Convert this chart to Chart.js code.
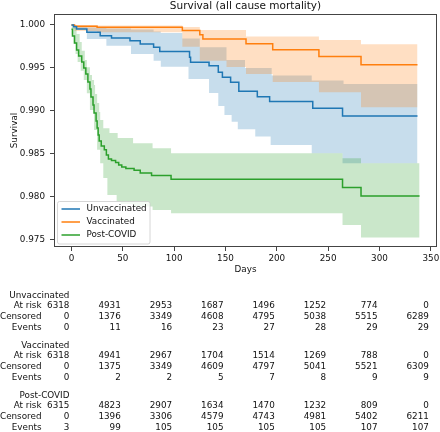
<!DOCTYPE html>
<html>
<head>
<meta charset="utf-8">
<script src="https://cdn.jsdelivr.net/npm/chart.js@4.4.1/dist/chart.umd.min.js"></script>
<style>
  html, body { margin: 0; padding: 0; background: #fff; }
  canvas { display: block; }
</style>
</head>
<body>
<canvas id="survivalChart" width="440" height="432"></canvas>
<script>
// Kaplan-Meier curves (day, survival)
const unvacDays = [0, 2, 5, 15, 28, 39, 57, 67, 80, 86, 115, 116, 134, 143, 147, 155, 163, 181, 193, 235, 264, 337];
const unvacSurv = [1.0, 0.9998, 0.99953, 0.99915, 0.99875, 0.99848, 0.99817, 0.99778, 0.9974, 0.99691, 0.99623, 0.99565, 0.99525, 0.99448, 0.9939, 0.99332, 0.99227, 0.99164, 0.99106, 0.99029, 0.98939, 0.98939];
const unvacUpperDays = [0, 5, 15, 34, 58, 80, 87, 108, 125, 151, 169, 195, 234, 265, 337];
const unvacUpper = [1.0, 0.99983, 0.99971, 0.99959, 0.99948, 0.99924, 0.99907, 0.99843, 0.9974, 0.99592, 0.99499, 0.9941, 0.99351, 0.99312, 0.99312];
const unvacLowerDays = [0, 2, 15, 34, 58, 80, 87, 114, 134, 143, 149, 156, 162, 179, 194, 234, 264, 337];
const unvacLower = [1.0, 0.99953, 0.99837, 0.99759, 0.99662, 0.99584, 0.99514, 0.9937, 0.99207, 0.99056, 0.98951, 0.98872, 0.98783, 0.98698, 0.986, 0.98504, 0.98387, 0.98387];

const vacDays = [0, 3, 25, 108, 125, 128, 170, 196, 241, 282, 337];
const vacSurv = [1.0, 0.99985, 0.99972, 0.99936, 0.99887, 0.99837, 0.99781, 0.99711, 0.99633, 0.99536, 0.99536];
const vacUpperDays = [0, 25, 108, 125, 170, 241, 282, 337];
const vacUpper = [1.0, 0.99995, 0.99977, 0.99942, 0.99866, 0.99825, 0.99775, 0.99775];
const vacLowerDays = [0, 3, 25, 108, 125, 151, 170, 196, 241, 282, 337];
const vacLower = [1.0, 0.9993, 0.99915, 0.99747, 0.99584, 0.9951, 0.99429, 0.99335, 0.99215, 0.9904, 0.9904];

const covidDays = [0, 1, 3, 5, 7, 10, 12, 14, 16, 18, 19, 21, 22, 24, 25, 26, 27, 29, 32, 34, 36, 39, 43, 46, 49, 53, 61, 67, 78, 97, 264, 282, 339];
const covidSurv = [0.9995, 0.99872, 0.9979, 0.99708, 0.99639, 0.99569, 0.99499, 0.99429, 0.99335, 0.99254, 0.9916, 0.99067, 0.98974, 0.98881, 0.98799, 0.98717, 0.98647, 0.98589, 0.98543, 0.98484, 0.98437, 0.9842, 0.98396, 0.98367, 0.98344, 0.98327, 0.98304, 0.98274, 0.98245, 0.98199, 0.98103, 0.98006, 0.98006];
const covidUpperDays = [0, 2, 5, 8, 10, 13, 15, 18, 20, 22, 23, 25, 27, 28, 31, 37, 45, 60, 79, 97, 264, 282, 339];
const covidUpper = [0.99985, 0.99965, 0.99895, 0.99802, 0.997, 0.99592, 0.99507, 0.99417, 0.99359, 0.993, 0.99195, 0.99091, 0.98986, 0.98892, 0.98796, 0.98741, 0.98682, 0.98621, 0.98562, 0.98504, 0.98446, 0.98387, 0.98387];
const covidLowerDays = [0, 2, 4, 6, 9, 12, 15, 18, 22, 25, 28, 31, 35, 44, 48, 60, 79, 97, 264, 282, 339];
const covidLower = [0.9989, 0.9978, 0.99662, 0.99569, 0.99467, 0.99359, 0.99204, 0.99009, 0.98776, 0.98543, 0.98387, 0.98216, 0.98018, 0.9794, 0.97913, 0.97881, 0.97843, 0.97804, 0.97668, 0.97522, 0.97522];

// at-risk table under the plot
const tableTicks = [0, 50, 100, 150, 200, 250, 300, 350];
const rowLabels = ['At risk', 'Censored', 'Events'];
const unvacAtRisk = [6318, 4931, 2953, 1687, 1496, 1252, 774, 0];
const unvacCensored = [0, 1376, 3349, 4608, 4795, 5038, 5515, 6289];
const unvacEvents = [0, 11, 16, 23, 27, 28, 29, 29];
const vacAtRisk = [6318, 4941, 2967, 1704, 1514, 1269, 788, 0];
const vacCensored = [0, 1375, 3349, 4609, 4797, 5041, 5521, 6309];
const vacEvents = [0, 2, 2, 5, 7, 8, 9, 9];
const covidAtRisk = [6315, 4823, 2907, 1634, 1470, 1232, 809, 0];
const covidCensored = [0, 1396, 3306, 4579, 4743, 4981, 5402, 6211];
const covidEvents = [3, 99, 105, 105, 105, 105, 107, 107];

const BLUE = '#1f77b4', ORANGE = '#ff7f0e', GREEN = '#2ca02c';
const FAMILY = "'DejaVu Sans', sans-serif";
const TEXT = '#111';
const tickFont = { family: FAMILY, size: 8.8 };

const toPoints = (days, vals) => days.map((d, i) => ({ x: d, y: vals[i] }));

function curve(label, days, vals, color) {
    return {
        label: label,
        data: toPoints(days, vals),
        borderColor: color,
        borderWidth: 1.5,
        stepped: true,
        pointRadius: 0,
        fill: false
    };
}

function band(days, vals, fill, color) {
    return {
        label: '',
        data: toPoints(days, vals),
        borderColor: 'rgba(0,0,0,0)',
        borderWidth: 0,
        stepped: true,
        pointRadius: 0,
        fill: fill,
        backgroundColor: color
    };
}

const groups = [
    { name: 'Unvaccinated', rows: [unvacAtRisk, unvacCensored, unvacEvents] },
    { name: 'Vaccinated', rows: [vacAtRisk, vacCensored, vacEvents] },
    { name: 'Post-COVID', rows: [covidAtRisk, covidCensored, covidEvents] }
];

// frame + legend drawn inside the axes, like matplotlib
const axesDecor = {
    id: 'axesDecor',
    afterDatasetsDraw(chart) {
        const { ctx, chartArea: a } = chart;
        ctx.save();
        ctx.strokeStyle = '#444';
        ctx.lineWidth = 1;
        ctx.strokeRect(Math.round(a.left) + 0.5, Math.round(a.top) + 0.5,
            Math.round(a.right - a.left) - 1, Math.round(a.bottom - a.top) - 1);

        // legend box
        const bx = a.left + 3.5, by = a.bottom - 45.5, bw = 92.5, bh = 42.5;
        ctx.beginPath();
        ctx.roundRect(bx, by, bw, bh, 2);
        ctx.fillStyle = 'rgba(255,255,255,0.8)';
        ctx.fill();
        ctx.strokeStyle = '#cccccc';
        ctx.lineWidth = 0.8;
        ctx.stroke();

        ctx.font = '8.8px ' + FAMILY;
        ctx.textBaseline = 'middle';
        ctx.textAlign = 'left';
        chart.data.datasets.slice(0, 3).forEach((ds, i) => {
            const y = by + 7.5 + i * 13;
            ctx.beginPath();
            ctx.moveTo(bx + 4, y);
            ctx.lineTo(bx + 22.5, y);
            ctx.strokeStyle = ds.borderColor;
            ctx.lineWidth = 1.5;
            ctx.stroke();
            ctx.fillStyle = TEXT;
            ctx.fillText(ds.label, bx + 29, y);
        });
        ctx.restore();
    }
};

const riskTable = {
    id: 'riskTable',
    afterDraw(chart) {
        const ctx = chart.ctx, xs = chart.scales.x;
        const colX = tableTicks.map(t => xs.getPixelForValue(t) - 2);
        ctx.save();
        ctx.font = '8.8px ' + FAMILY;
        ctx.fillStyle = TEXT;
        ctx.textBaseline = 'middle';
        ctx.textAlign = 'right';
        groups.forEach((g, gi) => {
            const y0 = 295.5 + gi * 50;
            ctx.fillText(g.name, colX[0], y0);
            g.rows.forEach((vals, ri) => {
                const y = y0 + 10.6 * (ri + 1);
                ctx.fillText(rowLabels[ri], 41.5, y);
                vals.forEach((v, ci) => ctx.fillText(String(v), colX[ci], y));
            });
        });
        ctx.restore();
    }
};

new Chart(document.getElementById('survivalChart'), {
    type: 'line',
    data: {
        datasets: [
            curve('Unvaccinated', unvacDays, unvacSurv, BLUE),
            curve('Vaccinated', vacDays, vacSurv, ORANGE),
            curve('Post-COVID', covidDays, covidSurv, GREEN),
            band(covidUpperDays, covidUpper, false, 'rgba(44,160,44,0.25)'),
            band(covidLowerDays, covidLower, '-1', 'rgba(44,160,44,0.25)'),
            band(vacUpperDays, vacUpper, false, 'rgba(255,127,14,0.25)'),
            band(vacLowerDays, vacLower, '-1', 'rgba(255,127,14,0.25)'),
            band(unvacUpperDays, unvacUpper, false, 'rgba(31,119,180,0.25)'),
            band(unvacLowerDays, unvacLower, '-1', 'rgba(31,119,180,0.25)')
        ]
    },
    options: {
        responsive: false,
        animation: false,
        events: [],
        layout: { padding: { top: 0, left: 0, right: 3, bottom: 155 } },
        plugins: {
            legend: { display: false },
            tooltip: { enabled: false },
            filler: { drawTime: 'beforeDatasetsDraw' },
            title: {
                display: true,
                fullSize: false,
                text: 'Survival (all cause mortality)',
                color: TEXT,
                font: { family: FAMILY, size: 10.5, weight: 'normal' },
                padding: { top: 0, bottom: 1.4 }
            }
        },
        scales: {
            x: {
                type: 'linear',
                min: -17,
                max: 356,
                ticks: { stepSize: 50, includeBounds: false, font: tickFont, color: TEXT, padding: 2, maxRotation: 0 },
                grid: { drawOnChartArea: false, tickLength: 4, color: '#444' },
                border: { display: false },
                title: { display: true, text: 'Days', color: TEXT, font: tickFont, padding: { top: 0, bottom: 2 } },
                afterFit: s => { s.height = 30; s.paddingLeft = 0; s.paddingRight = 0; }
            },
            y: {
                min: 0.9741,
                max: 1.00128,
                ticks: { stepSize: 0.005, includeBounds: false, font: tickFont, color: TEXT, padding: 5,
                    callback: v => v.toFixed(3) },
                grid: { drawOnChartArea: false, tickLength: 4, color: '#444' },
                border: { display: false },
                title: { display: true, text: 'Survival', color: TEXT, font: tickFont, padding: { top: 9, bottom: 0 } },
                afterFit: s => { s.width = 54; s.paddingTop = 0; s.paddingBottom = 0; }
            }
        }
    },
    plugins: [axesDecor, riskTable]
});
</script>
</body>
</html>
